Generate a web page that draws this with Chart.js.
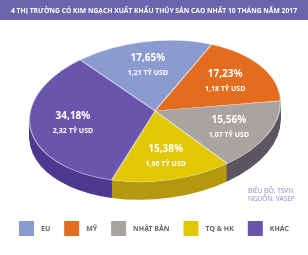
<!DOCTYPE html>
<html><head><meta charset="utf-8">
<script src="https://cdn.jsdelivr.net/npm/chart.js@4/dist/chart.umd.min.js"></script>
<style>html,body{margin:0;padding:0;background:#fff;}#wrap{width:308px;height:255px;position:relative;}</style>
</head><body><div id="wrap"><canvas id="c" width="308" height="255"></canvas></div>
<script>
const title = '4 THỊ TRƯỜNG CÓ KIM NGẠCH XUẤT KHẨU THỦY SẢN CAO NHẤT 10 THÁNG NĂM 2017';
const categories = ['EU', 'MỸ', 'NHẬT BẢN', 'TQ & HK', 'KHÁC'];
const shares = [17.65, 17.23, 15.56, 15.38, 34.18];
const shareLabels = ['17,65%', '17,23%', '15,56%', '15,38%', '34,18%'];
const valueLabels = ['1,21 TỶ USD', '1,18 TỶ USD', '1,07 TỶ USD', '1,06 TỶ USD', '2,32 TỶ USD'];
const sourceLines = ['BIỂU ĐỒ: TSVN', 'NGUỒN: VASEP'];

const topColors = ['#8b9bd0', '#e36c1f', '#a9a4a1', '#e2c703', '#6a55ad'];
const sideColors = ['#64729f', '#a9500f', '#5c5563', '#b5990f', '#4e3a8e'];

const CX = 155, CY = 111, RX = 126, RY = 70, TILT = -0.1, DEPTH = 18;

function makeMatrix(ax, ay, R, dy) {
  return new DOMMatrix().translate(CX, CY + dy).rotate(TILT * 180 / Math.PI).scale(RX / R, RY / R).translate(-ax, -ay);
}

const pie3d = {
  id: 'pie3d',
  beforeDraw(chart) {
    const ctx = chart.ctx;
    ctx.save();
    ctx.fillStyle = '#6b63ab';
    ctx.fillRect(0, 0, chart.width, 20);
    ctx.fillStyle = '#ffffff';
    ctx.font = 'bold 7.5px "Open Sans"';
    ctx.textAlign = 'center';
    ctx.textBaseline = 'middle';
    ctx.fillText(title, chart.width / 2, 10.5, 286);
    ctx.fillStyle = '#8d89bf';
    ctx.font = '6.5px "Open Sans"';
    ctx.textAlign = 'left';
    sourceLines.forEach((s, i) => ctx.fillText(s, 248, 191 + i * 8.5));
    // legend
    const box = 15, gapText = 7;
    ctx.font = 'bold 7px "Noto Sans"';
    const widths = categories.map(c => box + gapText + ctx.measureText(c).width);
    const span = 270;
    const gapItem = (span - widths.reduce((s, w) => s + w, 0)) / (categories.length - 1);
    let x = (chart.width - span) / 2;
    const ly = 221;
    categories.forEach((c, i) => {
      ctx.fillStyle = topColors[i];
      ctx.fillRect(x, ly, box, box);
      ctx.fillStyle = '#666666';
      ctx.textBaseline = 'middle';
      ctx.fillText(c, x + box + gapText, ly + box / 2 + 0.5);
      x += widths[i] + gapItem;
    });
    ctx.restore();
  },
  beforeDatasetsDraw(chart) {
    const ctx = chart.ctx;
    const meta = chart.getDatasetMeta(0);
    const a0 = meta.data[0];
    const ax = a0.x, ay = a0.y, R = a0.outerRadius;
    for (let d = DEPTH; d >= 1; d--) {
      ctx.save();
      ctx.setTransform(makeMatrix(ax, ay, R, d));
      meta.data.forEach((a, i) => {
        ctx.beginPath();
        ctx.moveTo(ax, ay);
        ctx.arc(ax, ay, R, a.startAngle, a.endAngle);
        ctx.closePath();
        ctx.fillStyle = sideColors[i];
        ctx.fill();
      });
      ctx.restore();
    }
    ctx.save();
    ctx.setTransform(makeMatrix(ax, ay, R, 0));
  },
  afterDatasetsDraw(chart) {
    const ctx = chart.ctx;
    ctx.restore();
    const meta = chart.getDatasetMeta(0);
    const a0 = meta.data[0];
    const ax = a0.x, ay = a0.y, R = a0.outerRadius;
    const m = makeMatrix(ax, ay, R, 0);
    ctx.save();
    ctx.fillStyle = '#ffffff';
    ctx.textAlign = 'center';
    ctx.textBaseline = 'middle';
    meta.data.forEach((a, i) => {
      const mid = (a.startAngle + a.endAngle) / 2;
      const f = 0.66;
      const p = m.transformPoint(new DOMPoint(ax + Math.cos(mid) * R * f, ay + Math.sin(mid) * R * f));
      ctx.font = 'bold 10px "Noto Sans"';
      ctx.fillText(shareLabels[i], p.x, p.y - 7);
      ctx.font = 'bold 7px "Noto Sans"';
      ctx.fillText(valueLabels[i], p.x, p.y + 8);
    });
    ctx.restore();
  }
};

new Chart(document.getElementById('c'), {
  type: 'pie',
  data: {
    labels: categories,
    datasets: [{
      data: shares,
      backgroundColor: topColors,
      borderColor: 'rgba(255,255,255,0.55)',
      borderWidth: 1,
      clip: false
    }]
  },
  options: {
    responsive: false,
    animation: false,
    rotation: -33.5,
    layout: { padding: { top: 25, bottom: 40, left: 0, right: 0 } },
    plugins: {
      tooltip: { enabled: false },
      legend: { display: false }
    }
  },
  plugins: [pie3d]
});
</script></body></html>
